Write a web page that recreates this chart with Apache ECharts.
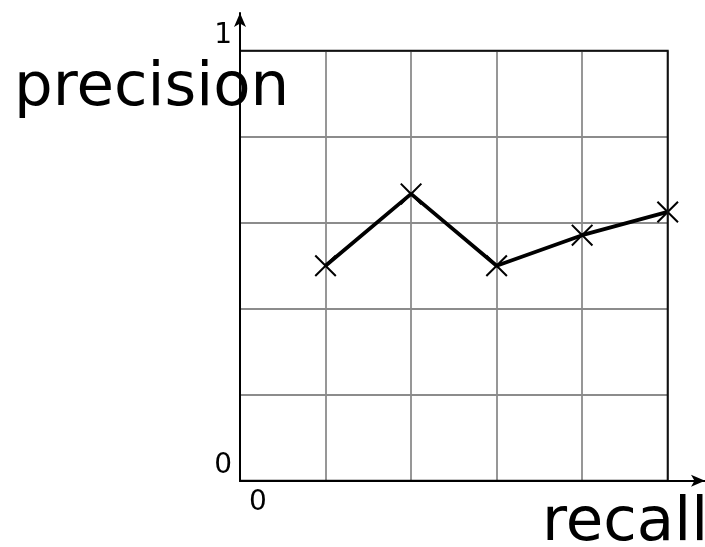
<!DOCTYPE html>
<html>
<head>
<meta charset="utf-8">
<script src="https://cdn.jsdelivr.net/npm/echarts@6/dist/echarts.min.js"></script>
<style>html,body{margin:0;padding:0;background:#fff}#c{width:705px;height:547px}</style>
</head>
<body>
<div id="c"></div>
<script>
var recall = [0.2, 0.4, 0.6, 0.8, 1.0];
var precision = [0.5, 0.667, 0.5, 0.571, 0.625];
var xTickLabels = ['0', '', '', '', '', ''];
var yTickLabels = ['0', '', '', '', '', '1'];
var xName = 'recall';
var yName = 'precision';

var chart = echarts.init(document.getElementById('c'), null, {renderer: 'canvas'});
var FONT = 'DejaVu Sans';
var cross = 'path://M0,1.3L1.3,0L10,8.7L18.7,0L20,1.3L11.3,10L20,18.7L18.7,20L10,11.3L1.3,20L0,18.7L8.7,10Z';

function tickIdx(v) { return Math.round(v / 0.2); }

chart.setOption({
  animation: false,
  backgroundColor: '#fff',
  grid: [
    {left: 240, top: 50.7, right: 37.3, bottom: 66.3, show: true, z: 4, borderColor: '#111', borderWidth: 2, backgroundColor: 'transparent'},
    {left: 240, top: 13, right: 0, bottom: 66.3}
  ],
  xAxis: [
    {type: 'value', gridIndex: 0, min: 0, max: 1, interval: 0.2,
     axisLine: {show: false}, axisTick: {show: false},
     splitLine: {show: true, lineStyle: {color: '#8c8c8c', width: 1.8}},
     axisLabel: {show: true, fontFamily: FONT, fontSize: 28, color: '#000', align: 'left', margin: 8, padding: [0, 0, 0, 9],
       formatter: function (v) { return xTickLabels[tickIdx(v)] || ''; }}},
    {type: 'value', gridIndex: 1, min: 0, max: 1, z: 5,
     axisLine: {show: true, lineStyle: {color: '#000', width: 2}, symbol: ['none', 'arrow'], symbolSize: [9, 14]},
     axisTick: {show: false}, splitLine: {show: false}, axisLabel: {show: false}}
  ],
  yAxis: [
    {type: 'value', gridIndex: 0, min: 0, max: 1, interval: 0.2,
     axisLine: {show: false}, axisTick: {show: false},
     splitLine: {show: true, lineStyle: {color: '#8c8c8c', width: 1.8}},
     axisLabel: {show: true, fontFamily: FONT, fontSize: 28, color: '#000', verticalAlign: 'bottom', margin: 8, padding: [0, 0, 1, 0],
       formatter: function (v) { return yTickLabels[tickIdx(v)] || ''; }}},
    {type: 'value', gridIndex: 1, min: 0, max: 1, z: 5,
     axisLine: {show: true, lineStyle: {color: '#000', width: 2}, symbol: ['none', 'arrow'], symbolSize: [9, 14]},
     axisTick: {show: false}, splitLine: {show: false}, axisLabel: {show: false}}
  ],
  graphic: [
    {type: 'text', x: 14, y: 89, z: 0, style: {text: yName, fontFamily: FONT, fontSize: 61, fill: '#000', verticalAlign: 'middle'}},
    {type: 'text', x: 542, y: 524, z: 0, style: {text: xName, fontFamily: FONT, fontSize: 61, fill: '#000', verticalAlign: 'middle'}}
  ],
  series: [{
    type: 'line', xAxisIndex: 0, yAxisIndex: 0, z: 3,
    data: recall.map(function (r, i) { return [r, precision[i]]; }),
    symbol: cross, symbolSize: 22, showAllSymbol: true,
    lineStyle: {color: '#000', width: 3.8},
    itemStyle: {color: '#000'},
    clip: false
  }]
});
</script>
</body>
</html>
